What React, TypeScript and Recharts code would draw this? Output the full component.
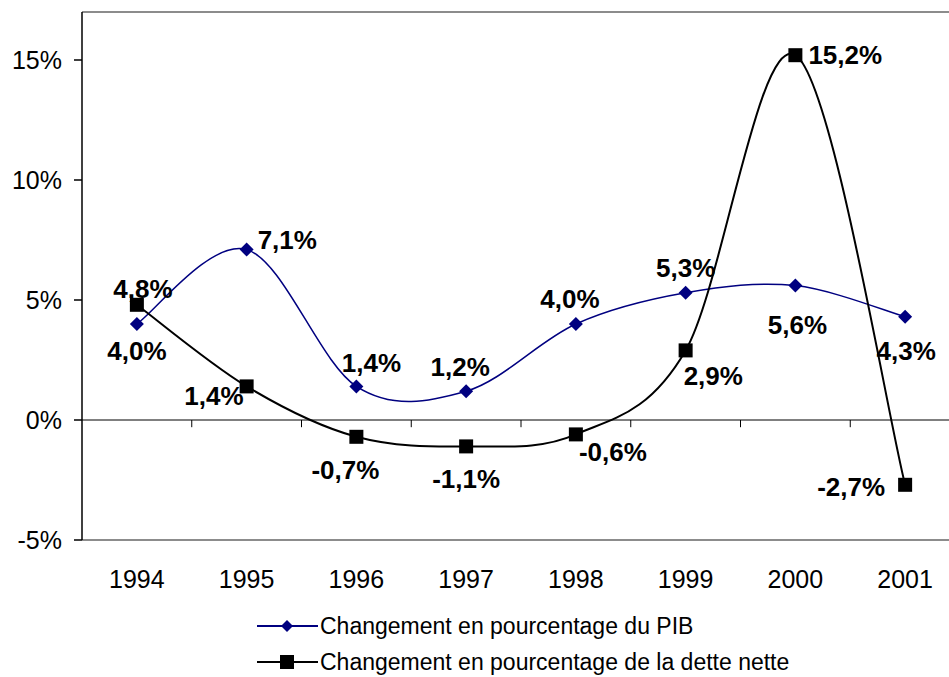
import React from 'react';
import {
  LineChart,
  Line,
  XAxis,
  YAxis,
  ReferenceLine,
} from 'recharts';

// Years on the category axis, and the two series (in %)
const YEARS = ['1994', '1995', '1996', '1997', '1998', '1999', '2000', '2001'];
const PIB = [4.0, 7.1, 1.4, 1.2, 4.0, 5.3, 5.6, 4.3];
const DETTE = [4.8, 1.4, -0.7, -1.1, -0.6, 2.9, 15.2, -2.7];
const Y_TICKS = [-5, 0, 5, 10, 15];

const FONT = '"Liberation Sans", Arial, sans-serif';
const NAVY = '#000080';
const BORDER = '#8c8c8c';

// label placement per point: [anchor, dx, dy]
type Place = [string, number, number];
const PIB_PLACE: Place[] = [
  ['middle', 0, 27],
  ['start', 11, -10],
  ['middle', 15, -23],
  ['middle', -6, -24],
  ['middle', -6, -25],
  ['middle', 0, -25],
  ['middle', 2, 39],
  ['middle', 1, 34],
];
const DETTE_PLACE: Place[] = [
  ['middle', 6, -16],
  ['end', -3, 10],
  ['middle', -11, 33],
  ['middle', 0, 33],
  ['start', 3, 18],
  ['start', -2, 26],
  ['start', 13, 0],
  ['end', -20, 2],
];

const data = YEARS.map((y, i) => ({ i, year: y, pib: PIB[i], dette: DETTE[i] }));

// Excel-like smoothed line (Catmull-Rom style bezier)
function excelCurve(context: any) {
  let pts: number[][] = [];
  return {
    areaStart() {},
    areaEnd() {},
    lineStart() {
      pts = [];
    },
    lineEnd() {
      if (!pts.length) return;
      context.moveTo(pts[0][0], pts[0][1]);
      for (let k = 0; k < pts.length - 1; k++) {
        const p0 = pts[Math.max(k - 1, 0)];
        const p1 = pts[k];
        const p2 = pts[k + 1];
        const p3 = pts[Math.min(k + 2, pts.length - 1)];
        context.bezierCurveTo(
          p1[0] + (p2[0] - p0[0]) / 6,
          p1[1] + (p2[1] - p0[1]) / 6,
          p2[0] - (p3[0] - p1[0]) / 6,
          p2[1] - (p3[1] - p1[1]) / 6,
          p2[0],
          p2[1]
        );
      }
    },
    point(x: number, y: number) {
      pts.push([+x, +y]);
    },
  };
}

const fmt = (v: number) => `${v.toFixed(1).replace('.', ',')}%`;

function makeLabel(places: Place[]) {
  return (props: any) => {
    const { x, y, value, index } = props;
    const [anchor, dx, dy] = places[index];
    return (
      <text
        x={x + dx}
        y={y + dy}
        textAnchor={anchor as any}
        dominantBaseline="central"
        fontFamily={FONT}
        fontSize={26}
        fontWeight="bold"
        fill="#000"
      >
        {fmt(value)}
      </text>
    );
  };
}

const Diamond = (props: any) => {
  const { cx, cy } = props;
  const r = 7;
  return <path d={`M${cx},${cy - r}L${cx + r},${cy}L${cx},${cy + r}L${cx - r},${cy}Z`} fill={NAVY} />;
};

const Square = (props: any) => {
  const { cx, cy } = props;
  return <rect x={cx - 7} y={cy - 7} width={14} height={14} fill="#000" />;
};

// category boundaries, where the small ticks sit on the 0% line
const BOUNDS = [0.5, 1.5, 2.5, 3.5, 4.5, 5.5, 6.5];

function LegendRow({ top, color, marker, label }: { top: number; color: string; marker: 'diamond' | 'square'; label: string }) {
  return (
    <div style={{ position: 'absolute', left: 255, top, height: 30, display: 'flex', alignItems: 'center' }}>
      <svg width={64} height={30}>
        <line x1={2} x2={63} y1={15} y2={15} stroke={color} strokeWidth={2} />
        {marker === 'diamond' ? (
          <path d="M32,9L38,15L32,21L26,15Z" fill={color} />
        ) : (
          <rect x={25} y={8} width={14} height={14} fill={color} />
        )}
      </svg>
      <span style={{ fontFamily: FONT, fontSize: 23, color: '#000', marginLeft: 1, whiteSpace: 'nowrap' }}>{label}</span>
    </div>
  );
}

export default function App() {
  return (
    <div style={{ position: 'absolute', left: 0, top: 0, width: 949, height: 677, overflow: 'hidden', background: '#fff' }}>
      <LineChart width={960} height={600} data={data} margin={{ top: 12, right: 0, bottom: 10, left: 0 }}>
        <XAxis
          dataKey="i"
          type="number"
          domain={[-0.5, 7.5]}
          ticks={[0, 1, 2, 3, 4, 5, 6, 7]}
          tickFormatter={(v: number) => YEARS[v]}
          axisLine={false}
          tickLine={false}
          tickSize={0}
          tickMargin={30}
          height={50}
          tick={{ fontSize: 25, fill: '#000', fontFamily: FONT }}
        />
        <YAxis
          domain={[-5, 17]}
          ticks={Y_TICKS}
          tickFormatter={(v: number) => `${v}%`}
          width={82}
          tickSize={8}
          tickMargin={12}
          axisLine={{ stroke: '#000', strokeWidth: 1.5 }}
          tickLine={{ stroke: '#000', strokeWidth: 1.5 }}
          tick={{ fontSize: 25, fill: '#000', fontFamily: FONT }}
        />
        <ReferenceLine y={17} stroke={BORDER} strokeWidth={2} />
        <ReferenceLine y={-5} stroke={BORDER} strokeWidth={2} />
        <ReferenceLine y={0} stroke="#000" strokeWidth={1} />
        {BOUNDS.map((b) => (
          <ReferenceLine
            key={b}
            segment={[
              { x: b, y: 0 },
              { x: b, y: -0.3 },
            ]}
            stroke="#000"
            strokeWidth={1}
          />
        ))}
        <Line
          dataKey="pib"
          type={excelCurve as any}
          stroke={NAVY}
          strokeWidth={1.5}
          dot={<Diamond />}
          label={makeLabel(PIB_PLACE)}
          isAnimationActive={false}
        />
        <Line
          dataKey="dette"
          type={excelCurve as any}
          stroke="#000"
          strokeWidth={2}
          dot={<Square />}
          label={makeLabel(DETTE_PLACE)}
          isAnimationActive={false}
        />
      </LineChart>
      <LegendRow top={611} color={NAVY} marker="diamond" label="Changement en pourcentage du PIB" />
      <LegendRow top={647} color="#000" marker="square" label="Changement en pourcentage de la dette nette" />
    </div>
  );
}
